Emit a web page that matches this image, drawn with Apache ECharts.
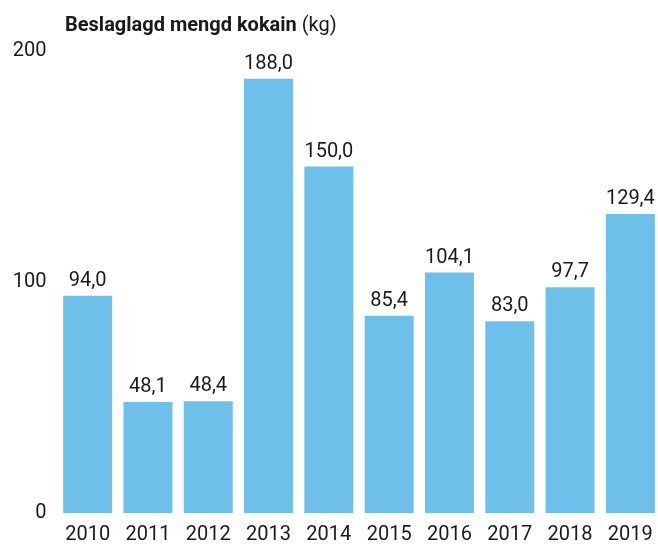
<!DOCTYPE html>
<html>
<head>
<meta charset="utf-8">
<script src="https://cdn.jsdelivr.net/npm/echarts@6/dist/echarts.min.js"></script>
<style>
  html, body { margin: 0; padding: 0; background: #fff; overflow: hidden; }
  #chart { width: 664px; height: 545px; }
</style>
</head>
<body>
<div id="chart"></div>
<script>
const years = ['2010', '2011', '2012', '2013', '2014', '2015', '2016', '2017', '2018', '2019'];
const seizedKg = [94.0, 48.1, 48.4, 188.0, 150.0, 85.4, 104.1, 83.0, 97.7, 129.4];
const yTicks = [0, 100, 200];

const textColor = '#1a1a1a';
const fontFamily = 'Roboto, "Noto Sans", sans-serif';

const fmtComma = (v) => v.toFixed(1).replace('.', ',');

const option = {
    backgroundColor: '#fff',
    animation: false,
    title: {
        text: '{b|Beslaglagd mengd kokain} {r|(kg)}',
        left: 60,
        top: 11,
        textStyle: {
            rich: {
                b: { fontFamily, fontSize: 20, fontWeight: 'bold', color: textColor },
                r: { fontFamily, fontSize: 20, fontWeight: 'normal', color: textColor }
            }
        }
    },
    // plot runs a little past the right edge of the 658px window, like the source
    grid: {
        left: 57.5,
        right: 3.5,
        top: 51,
        bottom: 32
    },
    xAxis: {
        type: 'category',
        data: years,
        axisLine: { show: false },
        axisTick: { show: false },
        axisLabel: {
            color: textColor,
            fontFamily,
            fontSize: 20,
            margin: 12
        }
    },
    yAxis: {
        type: 'value',
        min: yTicks[0],
        max: yTicks[yTicks.length - 1],
        interval: 100,
        splitLine: { show: false },
        axisLine: { show: false },
        axisTick: { show: false },
        axisLabel: {
            color: textColor,
            fontFamily,
            fontSize: 20,
            margin: 11
        }
    },
    series: [{
        type: 'bar',
        data: seizedKg,
        barWidth: 49,
        itemStyle: { color: '#6ec0ea' },
        label: {
            show: true,
            position: 'top',
            distance: 5,
            color: textColor,
            fontFamily,
            fontSize: 20,
            formatter: (p) => fmtComma(p.value)
        }
    }]
};

const myChart = echarts.init(document.getElementById('chart'));
myChart.setOption(option);
</script>
</body>
</html>
